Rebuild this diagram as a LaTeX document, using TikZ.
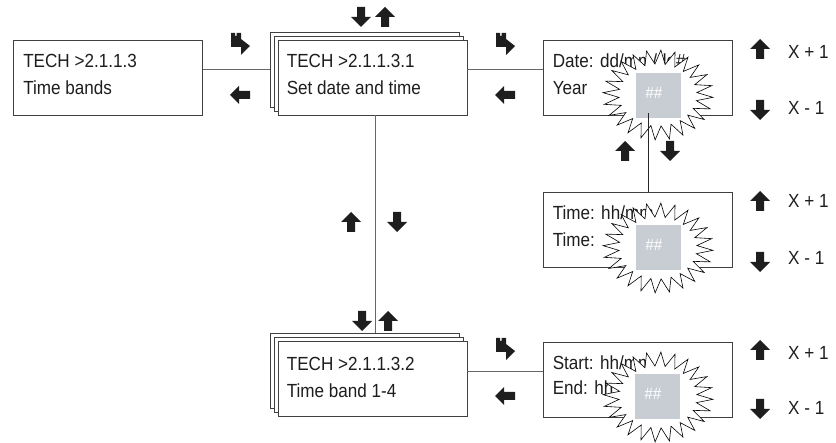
\documentclass[tikz,border=0pt]{standalone}
\usepackage{fontspec}
\setmainfont[FakeStretch=0.9]{Liberation Sans}
\usetikzlibrary{calc}
\definecolor{sqgray}{HTML}{C8CDD3}
\definecolor{ink}{HTML}{1E1E1E}
\begin{document}
\begin{tikzpicture}[x=1pt,y=-1pt,
  box/.style={draw=black!75, fill=white, line width=0.8pt, minimum width=189pt, minimum height=75pt, inner sep=0pt},
  txt/.style={font=\fontsize{19}{20}\selectfont, text=ink, inner sep=0pt, anchor=base west},
  conn/.style={draw=black!60, line width=0.8pt},
  sq/.style={fill=sqgray, draw=none, minimum width=45pt, minimum height=45pt, inner sep=0pt},
  hash/.style={font=\fontsize{16.5}{16}\selectfont, text=white, inner sep=0pt},
  uparr/.pic={\fill[ink] (0,-10) -- (10,0) -- (4,0) -- (4,10) -- (-4,10) -- (-4,0) -- (-10,0) -- cycle;},
  downarr/.pic={\fill[ink] (0,10) -- (10,0) -- (4,0) -- (4,-10) -- (-4,-10) -- (-4,0) -- (-10,0) -- cycle;},
  leftarr/.pic={\fill[ink] (-10,0) -- (-1,-9) -- (-1,-4) -- (10,-4) -- (10,4) -- (-1,4) -- (-1,9) -- cycle;},
  hookarr/.pic={\fill[ink] (-9,-11) -- (-5,-11) -- (-5,-8) -- (-3.5,-8) -- (-3.5,-11) -- (1,-11) -- (1,-5) -- (10,2) -- (1,11) -- (1,3) -- (-9,3) -- cycle;},
  burst/.pic={\filldraw[fill=white, draw=black, line width=0.6pt]
     plot[samples=49, domain=0:48, variable=\k]
     ({ifthenelse(mod(round(\k),2)==0,55,39)*cos(\k*7.5+3)},
      {ifthenelse(mod(round(\k),2)==0,45,31)*sin(\k*7.5+3)}) -- cycle;}
]
\useasboundingbox (0,0) rectangle (836,443);

% boxes
\node[box] (b1) at (108,77.5) {};
\node[box] (b2c) at (364.5,69.5) {};
\node[box] (b2b) at (368.5,73.5) {};
\node[box] (b2) at (372.5,77.5) {};
\node[box] (b3) at (637.5,77.5) {};
\node[box] (b6) at (637.5,229.5) {};
\node[box] (b4c) at (364.5,371) {};
\node[box] (b4b) at (368.5,375) {};
\node[box] (b4) at (372.5,379) {};
\node[box] (b5) at (637.5,379.5) {};

% texts
\node[txt] (b1a) at ($(b1.north west)+(10,28)$) {TECH >2.1.1.3};
\node[txt] (b1b) at ($(b1.north west)+(10,55)$) {Time bands};
\node[txt] (b2a) at ($(b2.north west)+(9,28)$) {TECH >2.1.1.3.1};
\node[txt] (b2d) at ($(b2.north west)+(9,55)$) {Set date and time};
\node[txt] (b3a) at ($(b3.north west)+(10,28)$) {Date: dd/mm/dd\#};
\node[txt] (b3b) at ($(b3.north west)+(10,55)$) {Year};
\node[txt] (b6a) at ($(b6.north west)+(10,28)$) {Time: hh/mm};
\node[txt] (b6b) at ($(b6.north west)+(10,55)$) {Time:};
\node[txt] (b4a) at ($(b4.north west)+(9,29)$) {TECH >2.1.1.3.2};
\node[txt] (b4d) at ($(b4.north west)+(9,56)$) {Time band 1-4};
\node[txt] (b5a) at ($(b5.north west)+(10,28)$) {Start: hh/mm};
\node[txt] (b5b) at ($(b5.north west)+(10,53)$) {End: hh};

% connectors
\coordinate (vx) at (375,0);
\coordinate (sx) at (648,0);
\draw[conn] (b2c.west -| b1.east) -- (b2c.west);
\draw[conn] (b2c.west -| b2.east) -- (b2c.west -| b3.west);
\draw[conn] (b4c.west -| b4.east) -- (b4c.west -| b5.west);
\draw[conn] (b2.south -| vx) -- (b4c.north -| vx);

% starbursts
\pic at (658,95) {burst};
\pic at (658,248) {burst};
\pic at (658,397) {burst};
\node[sq] (sq1) at (658.5,95.5) {};
\node[sq] (sq2) at (658.5,248) {};
\node[sq] (sq3) at (657.5,396.5) {};
\node[hash] (h1) at ($(sq1.center)+(-4.5,-3)$) {\#\#};
\node[hash] (h2) at ($(sq2.center)+(-4.5,-3)$) {\#\#};
\node[hash] (h3) at ($(sq3.center)+(-4.5,-3)$) {\#\#};
\draw[line width=0.7pt, black!85] ($(sq1.south -| sx)+(0,-5)$) -- (b6.north -| sx);

% arrows between boxes
\pic at (240,44) {hookarr};
\pic at (240,95) {leftarr};
\pic at (505,44) {hookarr};
\pic at (505,95) {leftarr};
\pic at (505,349) {hookarr};
\pic at (505,396) {leftarr};
% vertical arrows
\pic at (361,17) {downarr};
\pic at (385,17) {uparr};
\pic at (351,222) {uparr};
\pic at (397,222) {downarr};
\pic at (362,321) {downarr};
\pic at (388,321) {uparr};
\pic at (625,151) {uparr};
\pic at (670,151) {downarr};

% value arrows and labels
\pic at (760,49) {uparr};
\pic at (760,110) {downarr};
\pic at (760,201) {uparr};
\pic at (760,262) {downarr};
\pic at (760,350) {uparr};
\pic at (760,409) {downarr};
\node[txt] (l1) at (788,59) {X + 1};
\node[txt] (l2) at (788,115) {X - 1};
\node[txt] (l3) at (788,208) {X + 1};
\node[txt] (l4) at (788,264.5) {X - 1};
\node[txt] (l5) at (788,359.5) {X + 1};
\node[txt] (l6) at (788,415) {X - 1};
\end{tikzpicture}
\end{document}
